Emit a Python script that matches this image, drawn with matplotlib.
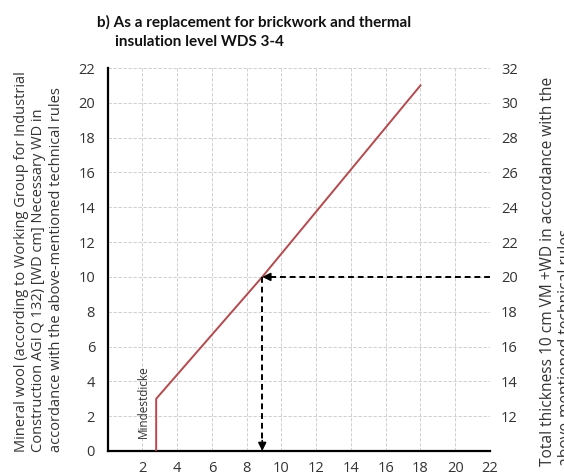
import matplotlib
matplotlib.use("Agg")
from matplotlib import pyplot as plt

# data
curve_x = [2.8, 2.8, 8.9, 18.0]
curve_y = [0.0, 3.0, 10.0, 21.0]
read_x = 8.9      # example reading: WD in cm
read_y = 10.0
x_ticks = [2, 4, 6, 8, 10, 12, 14, 16, 18, 20, 22]
y_ticks = [0, 2, 4, 6, 8, 10, 12, 14, 16, 18, 20, 22]
y2_ticks = [12, 14, 16, 18, 20, 22, 24, 26, 28, 30, 32]
offset = 10       # total thickness = 10 cm VM + WD

title1 = "b) As a replacement for brickwork and thermal"
title2 = "insulation level WDS 3-4"
ylabel = ("Mineral wool (according to Working Group for Industrial\n"
          "Construction AGI Q 132) [WD cm] Necessary WD in\n"
          "accordance with the above-mentioned technical rules")
y2label = ("Total thickness 10 cm VM +WD in accordance with the\n"
           "above-mentioned technical rules")

fam = ['Open Sans', 'DejaVu Sans']
plt.rcParams['font.family'] = fam
txt = '#333333'
W, H = 564, 475

fig = plt.figure(figsize=(W / 100, H / 100), dpi=100)
ax = fig.add_axes([107.5 / W, 1 - 451 / H, (490 - 107.5) / W, (451 - 68) / H])

ax.set_xlim(0, 22)
ax.set_ylim(0, 22)
ax.set_xticks(range(0, 23, 2))
ax.set_xticklabels([''] + [str(t) for t in x_ticks], family=fam)
ax.set_yticks(y_ticks)
ax.set_yticklabels([str(t) for t in y_ticks], family=fam)
ax.grid(True, color='#c8c8c8', lw=0.6, ls=(0, (4, 2)))
ax.set_axisbelow(True)
ax.tick_params(length=0, labelsize=10.5, colors=txt)
ax.tick_params(axis='y', pad=9)
ax.tick_params(axis='x', pad=7)
for s in ['top', 'right']:
    ax.spines[s].set_visible(False)
for s in ['left', 'bottom']:
    ax.spines[s].set_linewidth(1.6)
    ax.spines[s].set_color('black')

# curve
ax.plot(curve_x, curve_y, color='#b9474b', lw=1.4, zorder=3)

# reading arrows
ax.plot([22, read_x + 0.35], [read_y, read_y], color='black', lw=1.4,
        ls=(0, (3, 2)), zorder=4)
ax.plot([read_x, read_x], [read_y, 0.45], color='black', lw=1.4,
        ls=(0, (3, 2)), zorder=4)
ax.annotate('', xy=(read_x, read_y), xytext=(read_x + 0.5, read_y),
            arrowprops=dict(arrowstyle='-|>', color='black', lw=1.2,
                            mutation_scale=12, shrinkA=0, shrinkB=0), zorder=5)
ax.annotate('', xy=(read_x, 0), xytext=(read_x, 0.6),
            arrowprops=dict(arrowstyle='-|>', color='black', lw=1.2,
                            mutation_scale=12, shrinkA=0, shrinkB=0), zorder=5)

ax.text(2.05, 0.75, 'Mindestdicke', rotation=90, ha='center', va='bottom',
        fontsize=8.5, color=txt, family=fam)

# right axis: total thickness
ax2 = ax.twinx()
ax2.set_ylim(0 + offset, 22 + offset)
ax2.set_yticks(y2_ticks)
ax2.set_yticklabels([str(t) for t in y2_ticks], family=fam)
ax2.tick_params(length=0, labelsize=10.5, colors=txt, pad=8)
for s in ax2.spines.values():
    s.set_visible(False)

fig.text(39 / W, 1 - 452 / H, ylabel, rotation=90, ha='center', va='bottom',
         fontsize=10.55, color=txt, linespacing=1.26, multialignment='left',
         family=fam)
fig.text(557 / W, 1 - 466 / H, y2label, rotation=90, ha='center', va='bottom',
         fontsize=11.2, color=txt, linespacing=1.15, multialignment='left',
         family=fam)

tfont = ['Lato', 'DejaVu Sans']
fig.text(97 / W, 1 - 22 / H, title1, ha='left', va='center', fontsize=11,
         fontweight='bold', family=tfont, color='#111111')
fig.text(115 / W, 1 - 42 / H, title2, ha='left', va='center', fontsize=11,
         fontweight='bold', family=tfont, color='#111111')

plt.savefig('out.png', dpi=100)
